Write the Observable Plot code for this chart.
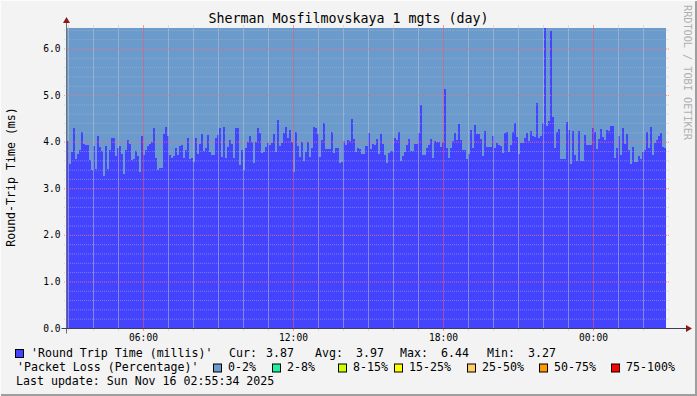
<!DOCTYPE html>
<html><head><meta charset="utf-8">
<script src="https://cdn.jsdelivr.net/npm/d3@7"></script>
<script src="https://cdn.jsdelivr.net/npm/@observablehq/plot@0.6"></script>
<style>
html,body{margin:0;padding:0;background:#f3f3f3;}
#chart{position:relative;width:697px;height:396px;overflow:hidden;background:#f3f3f3;}
#chart svg{position:absolute;left:0;top:0;}
</style></head><body><div id="chart"></div>
<script>
// ---- text ----
const chartTitle = "Sherman Mosfilmovskaya 1 mgts (day)";
const yAxisLabel = "Round-Trip Time (ms)";
const watermark = "RRDTOOL / TOBI OETIKER";
const rttLabel = "'Round Trip Time (millis)'";
const lossLabel = "'Packet Loss (Percentage)'";
const lastUpdate = "Last update: Sun Nov 16 02:55:34 2025";
const statNames = ["Cur:", "Avg:", "Max:", "Min:"];
const statValues = ["3.87", "3.97", "6.44", "3.27"];

// ---- scales / ticks ----
const yMajorTicks = [0, 1, 2, 3, 4, 5, 6];
const yMax = 6.44;
const xTickLabels = ["06:00", "12:00", "18:00", "00:00"];
const timeStart = Date.UTC(2025, 10, 15, 2, 57, 36);
const timeEnd = Date.UTC(2025, 10, 16, 2, 55, 12);

// ---- series: round trip time (ms), left to right ----
const rttSeg1 = [
  4.01,3.52,3.77,4.29,3.63,3.73,3.82,4.21,3.94,3.93,
  3.93,3.60,3.39,3.90,3.41,4.12,3.88,3.81,3.26,3.90,
  3.41,3.82,4.08,4.08,3.69,3.86,3.90,3.73,3.30,3.82,
  4.03,3.94,3.60,3.63,3.80,3.70,3.35,4.12,3.71,3.82,
  3.90,3.96,3.99,4.29,3.65,3.39,3.43,3.43,4.16,4.31,
  4.12,3.71,3.65,3.69,3.86,3.71,3.90,3.93,3.65,3.82,
  4.08,3.63,3.65,3.57,4.08,3.73,3.95,4.16,3.80,3.86,
  4.14,3.78,3.71,3.71,4.08,4.14,4.29,3.67,4.31,3.65,
  3.88,4.03,3.95,3.65,4.29,4.29,3.50,3.82,3.39,3.86,
  3.99,4.12,3.99,3.54,3.99,4.29,4.18,3.75,3.78,3.88];
const rttSeg2 = [
  3.97,3.93,3.97,4.16,3.78,4.46,3.90,3.97,4.18,4.31,
  4.08,4.25,3.99,3.35,4.21,3.90,3.67,3.99,3.58,3.78,
  3.99,3.67,3.86,4.31,4.29,4.16,3.67,4.03,4.40,3.84,
  3.84,3.84,4.21,3.75,3.86,3.86,3.54,3.56,4.01,3.93,
  4.03,4.01,4.48,4.06,3.78,3.86,3.84,3.73,3.73,3.90,
  4.18,3.84,3.95,3.93,4.06,3.73,4.16,3.95,3.71,3.54,
  3.75,3.80,3.80,4.08,4.03,4.21,3.58,3.69,3.78,3.93,
  4.06,3.80,3.80,3.95,3.95,4.18,4.79,3.71,3.71,3.86,
  3.93,4.06,3.65,4.01,3.99,3.99,3.88,3.99,5.13,3.86,
  3.65,3.86,4.01,4.18,4.03,4.38,4.03,3.82,3.82,3.63];
const rttSeg3 = [
  3.73,4.25,3.86,4.36,4.16,4.16,4.06,3.69,4.23,3.88,
  3.88,3.88,4.12,3.86,3.97,3.93,3.90,3.75,4.18,4.21,
  3.78,3.93,4.21,4.40,4.10,3.73,3.97,3.97,4.08,4.18,
  4.01,4.23,4.12,4.10,4.83,4.08,4.12,4.40,6.44,4.33,
  4.44,6.38,4.53,3.86,4.21,4.27,3.63,3.63,3.63,4.42,
  4.25,3.52,4.23,3.71,3.58,4.23,3.58,3.58,4.14,3.93,
  3.93,3.93,4.29,4.21,3.84,4.06,4.27,4.10,4.03,4.25,
  4.23,4.33,4.33,3.65,3.86,4.12,3.71,4.29,3.95,4.16,
  3.82,3.52,3.88,3.56,3.56,3.69,3.63,3.78,3.82,4.21,
  3.86,4.31,3.71,3.97,4.03,4.12,4.18,3.88,3.87];
// packet loss (%) seen over the whole day: always in the lowest band
const packetLossLevel = 0;

// ---- loss legend ----
const lossBands = ["0-2%", "2-8%", "8-15%", "15-25%", "25-50%", "50-75%", "75-100%"];
const lossUpper = [2, 8, 15, 25, 50, 75, 100];
const lossColors = ["#6a9bcc", "#1ef2a0", "#ccff00", "#ffff00", "#ffcc66", "#ff9900", "#ff0000"];
const rttColor = "#4444ff";

// ---- build table ----
const rtt = [...rttSeg1, ...rttSeg2, ...rttSeg3];
const dt = (timeEnd - timeStart) / rtt.length;
const slots = rtt.map((v, i) => ({
  t1: new Date(timeStart + i * dt),
  t2: new Date(timeStart + (i + 1) * dt),
  rtt: v,
  loss: packetLossLevel
}));
const lossColor = p => lossColors[lossUpper.findIndex(u => p <= u)];

const hours = d3.utcHour.range(new Date(timeStart), new Date(timeEnd));
const majorHours = hours.filter(d => d.getUTCHours() % 6 === 0);
const minorHours = hours.filter(d => d.getUTCHours() % 6 !== 0);
const yMinorTicks = d3.range(1, Math.floor(yMax / 0.2) + 1).map(i => +(i * 0.2).toFixed(1))
  .filter(v => Math.abs(v - Math.round(v)) > 1e-6);

const mono = "DejaVu Sans Mono";

const plot = Plot.plot({
  width: 697, height: 396,
  marginTop: 28, marginBottom: 68, marginLeft: 67, marginRight: 31,
  style: {background: "transparent", fontFamily: mono, fontSize: "9.6px", color: "#000"},
  x: {type: "utc", domain: [new Date(timeStart), new Date(timeEnd)], ticks: majorHours,
      tickFormat: (d, i) => xTickLabels[i], tickSize: 0, tickPadding: 6, label: null},
  y: {domain: [0, yMax], ticks: yMajorTicks, tickFormat: d => d.toFixed(1),
      tickSize: 0, tickPadding: 7, label: null},
  marks: [
    Plot.rect(slots, {x1: "t1", x2: "t2", y1: 0, y2: yMax, fill: d => lossColor(d.loss), shapeRendering: "crispEdges"}),
    Plot.rect(slots, {x1: "t1", x2: "t2", y1: 0, y2: "rtt", fill: rttColor, shapeRendering: "crispEdges"}),
    Plot.ruleY(yMinorTicks, {stroke: "#b8b8c8", strokeOpacity: 0.5, strokeDasharray: "1,1", insetLeft: -3, insetRight: -3}),
    Plot.ruleX(minorHours, {x: d => d, stroke: "#c4c4d0", strokeOpacity: 0.5, insetTop: -3, insetBottom: -3}),
    Plot.ruleY(yMajorTicks.filter(d => d > 0), {stroke: "#ff6e78", strokeOpacity: 0.8, strokeDasharray: "1,1", insetLeft: -3, insetRight: -3}),
    Plot.ruleX(majorHours, {x: d => d, stroke: "#ff5060", strokeOpacity: 0.55, insetTop: -3, insetBottom: -3})
  ]
});
const chart = document.getElementById("chart");
chart.appendChild(plot);

// ---- overlay: frame, axes, arrows, title, legend ----
const sx = plot.scale("x"), sy = plot.scale("y");
const xL = Math.round(sx.apply(new Date(timeStart))) - 0.5;
const xR = Math.round(sx.apply(new Date(timeEnd)));
const yB = Math.round(sy.apply(0)) + 0.5;
const yT = Math.round(sy.apply(yMax));

const svg = d3.select(chart).append("svg")
  .attr("width", 697).attr("height", 396)
  .style("font-family", mono);

// 3D frame
svg.append("path").attr("d", "M0.5,395.5V0.5H696.5").attr("fill", "none").attr("stroke", "#fcfcfc").attr("stroke-width", 1);
svg.append("path").attr("d", "M1,395H696V1").attr("fill", "none").attr("stroke", "#9e9e9e").attr("stroke-width", 2);

// axes
svg.append("line").attr("x1", xL).attr("x2", xL).attr("y1", yB + 5).attr("y2", yT - 6)
  .attr("stroke", "#6e6e6e");
svg.append("line").attr("x1", xL - 5).attr("x2", xR + 22).attr("y1", yB).attr("y2", yB)
  .attr("stroke", "#403c5c");
// arrows
svg.append("path").attr("d", `M${xL - 3.5},${yT - 5}L${xL + 3.5},${yT - 5}L${xL},${yT - 11}Z`).attr("fill", "#8b1a1a");
svg.append("path").attr("d", `M${xR + 20},${yB - 3.5}L${xR + 20},${yB + 3.5}L${xR + 26},${yB}Z`).attr("fill", "#8b1a1a");

// title and labels
svg.append("text").attr("x", 348.5).attr("y", 23).attr("text-anchor", "middle")
  .attr("font-size", "13.3px").attr("fill", "#000").text(chartTitle);
svg.append("text").attr("transform", "translate(15,177) rotate(-90)").attr("text-anchor", "middle")
  .attr("font-size", "11.6px").attr("fill", "#000").text(yAxisLabel);
svg.append("text").attr("transform", "translate(684,5) rotate(90)").attr("text-anchor", "start")
  .attr("font-size", "10.2px").attr("fill", "#b0b0b0").text(watermark);

// legend
const lg = svg.append("g").attr("font-size", "11.6px").attr("fill", "#000");
const box = (x, y, c) => lg.append("rect").attr("x", x + 0.5).attr("y", y + 0.5).attr("width", 8).attr("height", 8)
  .attr("fill", c).attr("stroke", "#000").attr("stroke-width", 1);
const txt = (x, y, s) => lg.append("text").attr("x", x).attr("y", y).attr("xml:space", "preserve").text(s);

box(15, 349, rttColor);
txt(31, 357, rttLabel);
const statNameX = [229, 315, 400, 487];
const statValX = [266, 356, 441, 528];
statNames.forEach((s, i) => { txt(statNameX[i], 357, s); txt(statValX[i], 357, statValues[i]); });

txt(17, 371, lossLabel);
const bandBoxX = [213, 272, 338, 394, 467, 539, 611];
lossBands.forEach((b, i) => { box(bandBoxX[i], 363.5, lossColors[i]); txt(bandBoxX[i] + 15, 371, b); });

txt(16, 385, lastUpdate);
</script>
</body></html>
